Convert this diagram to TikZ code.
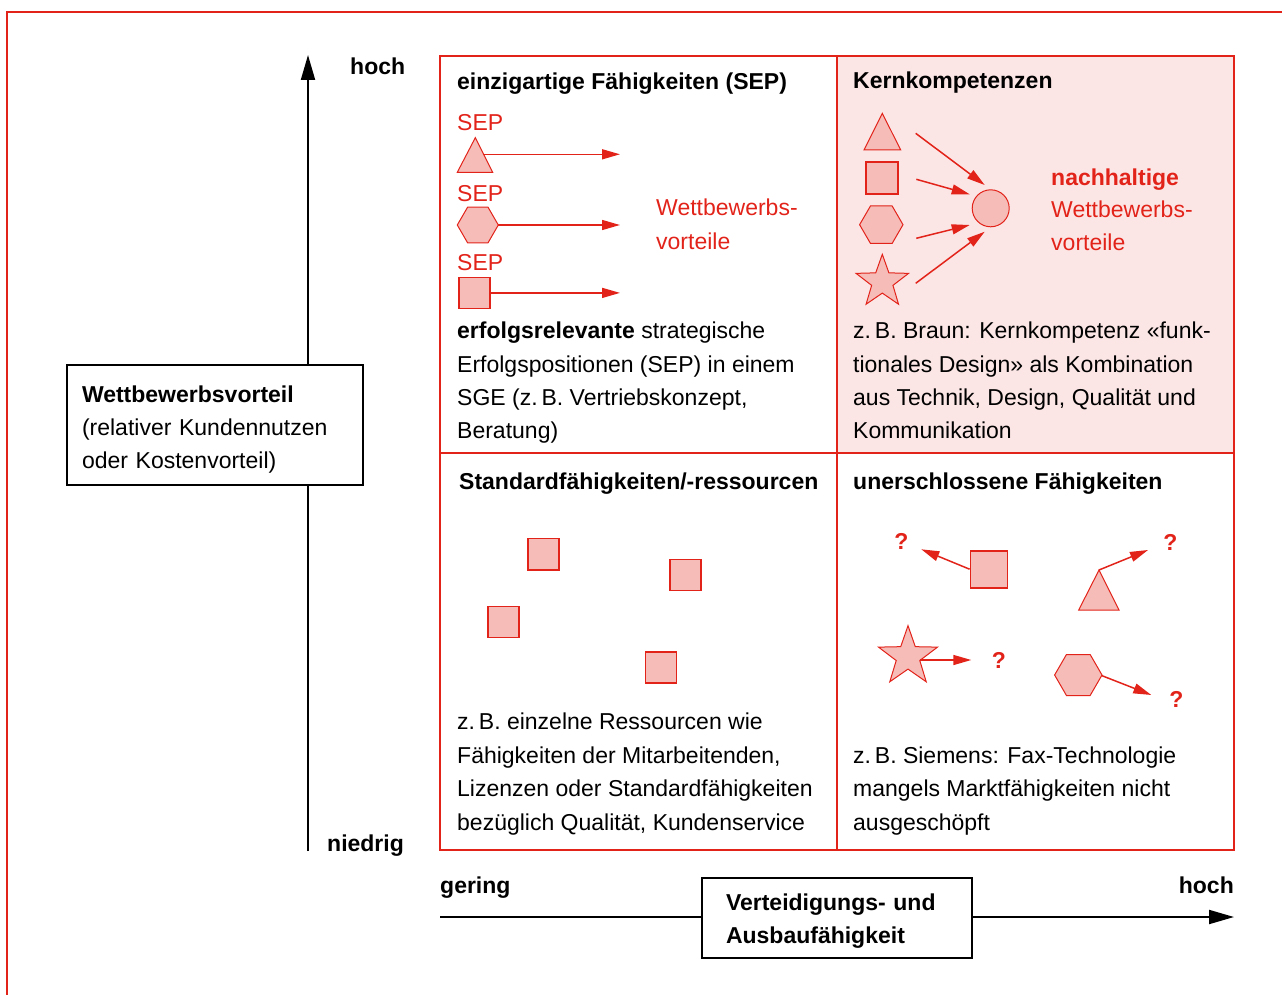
\documentclass[tikz,border=0pt]{standalone}
\usepackage{fontspec}
\setmainfont{Liberation Sans}
\usetikzlibrary{arrows.meta,calc}
\definecolor{rd}{HTML}{E2231A}
\definecolor{shfill}{HTML}{F6BCB8}
\definecolor{cellbg}{HTML}{FCE6E5}
\begin{document}
\begin{tikzpicture}[x=1pt,y=-1pt,
  every node/.style={font=\fontsize{23}{33}\selectfont, inner sep=0pt},
  txt/.style={anchor=base west},
  ttl/.style={anchor=base west, font=\fontsize{23}{33}\selectfont\bfseries},
  rtxt/.style={anchor=base west, text=rd},
  gridline/.style={draw=rd, line width=2pt},
  shp/.style={draw=rd, fill=shfill, line width=1pt, line join=miter},
  sqr/.style={rectangle, draw=rd, fill=shfill, line width=1.8pt, minimum size=#1},
  rarr/.style={draw=rd, line width=1.5pt, -{Triangle[length=18pt,width=10pt]}},
  axisline/.style={line width=2pt, -{Triangle[length=25pt,width=14pt]}},
  lblbox/.style={draw, line width=1.5pt, fill=white, align=left},
  qmark/.style={text=rd, font=\fontsize{23}{33}\selectfont\bfseries}
]
\clip (0,0) rectangle (1282,995);
% outer frame
\draw[draw=rd, line width=2pt] (7,1010) -- (7,12) -- (1300,12);

% matrix
\fill[cellbg] (837,56) rectangle (1234,453);
\draw[gridline] (440,56) rectangle (1234,850);
\draw[gridline] (837,56) -- (837,850);
\draw[gridline] (440,453) -- (1234,453);

% axes
\coordinate (ybot) at (308,851);
\coordinate (ytop) at (308,55);
\draw[axisline] (ybot) -- (ytop);
\coordinate (xl) at (440,917);
\coordinate (xr) at (1234,917);
\draw[axisline] (xl) -- (xr);

\node[lblbox, minimum width=296, minimum height=120, text width=266, inner xsep=15, inner ysep=0] (wbox) at (215,425)
  {\rule{0pt}{25pt}\textbf{Wettbewerbsvorteil}\\(relativer Kundennutzen\\oder Kostenvorteil)};
\node[lblbox, minimum width=270, minimum height=80, text width=222, inner xsep=24, inner ysep=0] (vbox) at (837,918)
  {\rule{0pt}{23pt}\textbf{Verteidigungs- und}\\\textbf{Ausbaufähigkeit}};

\node[ttl] (yhoch) at (350,75) {hoch};
\node[ttl] (yniedrig) at (327,851) {niedrig};
\node[ttl] (xgering) at (440,893) {gering};
\node[ttl, anchor=base east] (xhoch) at (1234,893) {hoch};

% ---------- top left ----------
\node[ttl] (tlt) at (457,90) {einzigartige Fähigkeiten (SEP)};
\node[rtxt] (sep1) at (457,131) {SEP};
\node[rtxt] (sep2) at (457,201) {SEP};
\node[rtxt] (sep3) at (457,270) {SEP};
\filldraw[shp] (475.3,137.7) -- (492.7,172.3) -- (457.3,172.3) -- cycle;
\coordinate (a1s) at (483.3,154.3);
\coordinate (a1e) at (620,154.3);
\draw[rarr] (a1s) -- (a1e);
\filldraw[shp] (457.3,225) -- (467.55,207.25) -- (488.05,207.25) -- (498.3,225) -- (488.05,242.75) -- (467.55,242.75) -- cycle;
\coordinate (a2s) at (498.3,225);
\coordinate (a2e) at (620,225);
\draw[rarr] (a2s) -- (a2e);
\node[sqr=31] (tlsq) at (474.2,292.9) {};
\coordinate (a3e) at (620,292.9);
\draw[rarr] (tlsq.east) -- (a3e);
\node[rtxt] (tlw1) at (656,215) {Wettbewerbs-};
\node[rtxt] (tlw2) at (656,249) {vorteile};
\node[txt] (tlb1) at (457,338) {\textbf{erfolgsrelevante} strategische};
\node[txt] (tlb2) at (457,372) {Erfolgspositionen (SEP) in einem};
\node[txt] (tlb3) at (457,405) {SGE (z.\,B. Vertriebskonzept,};
\node[txt] (tlb4) at (457,438) {Beratung)};

% ---------- top right ----------
\node[ttl] (trt) at (853,89) {Kernkompetenzen};
\filldraw[shp] (882.3,113.3) -- (900.7,150) -- (864,150) -- cycle;
\node[sqr=32.5] (trsq) at (882,178) {};
\filldraw[shp] (859.6,224.7) -- (870.45,206) -- (892.15,206) -- (903,224.7) -- (892.15,243.4) -- (870.45,243.4) -- cycle;
\filldraw[shp] plot[samples at={0,...,9}, variable=\k]
  ({882.3+ifthenelse(mod(\k,2)==0,27.6,11.2)*cos(270+36*\k)},
   {281.9+ifthenelse(mod(\k,2)==0,27.6,11.2)*sin(270+36*\k)}) -- cycle;
\node[circle, draw=rd, fill=shfill, line width=1pt, minimum size=37] (circ) at (990.7,208.3) {};
\coordinate (b1s) at (915.7,133.3);
\coordinate (b1e) at (984.7,185);
\coordinate (b2s) at (916.3,179.3);
\coordinate (b2e) at (969.7,194.3);
\coordinate (b3s) at (916.3,238.3);
\coordinate (b3e) at (969.7,225);
\coordinate (b4s) at (915.7,283.3);
\coordinate (b4e) at (984.7,231.7);
\draw[rarr] (b1s) -- (b1e);
\draw[rarr] (b2s) -- (b2e);
\draw[rarr] (b3s) -- (b3e);
\draw[rarr] (b4s) -- (b4e);
\node[rtxt, font=\fontsize{23}{33}\selectfont\bfseries] (trw0) at (1051,186) {nachhaltige};
\node[rtxt] (trw1) at (1051,218) {Wettbewerbs-};
\node[rtxt] (trw2) at (1051,251) {vorteile};
\node[txt] (trb1) at (853,338) {z.\,B. Braun: Kernkompetenz «funk-};
\node[txt] (trb2) at (853,372) {tionales Design» als Kombination};
\node[txt] (trb3) at (853,405) {aus Technik, Design, Qualität und};
\node[txt] (trb4) at (853,438) {Kommunikation};

% ---------- bottom left ----------
\node[ttl] (blt) at (459,489) {Standardfähigkeiten/-ressourcen};
\node[sqr=31.5] (blsq1) at (543.5,554.3) {};
\node[sqr=31] (blsq2) at (685.5,575) {};
\node[sqr=31] (blsq3) at (503.3,622) {};
\node[sqr=31] (blsq4) at (661,667.8) {};
\node[txt] (blb1) at (457,729) {z.\,B. einzelne Ressourcen wie};
\node[txt] (blb2) at (457,763) {Fähigkeiten der Mitarbeitenden,};
\node[txt] (blb3) at (457,796) {Lizenzen oder Standardfähigkeiten};
\node[txt] (blb4) at (457,830) {bezüglich Qualität, Kundenservice};

% ---------- bottom right ----------
\node[ttl] (brt) at (853,489) {unerschlossene Fähigkeiten};
\node[sqr=37] (brsq) at (989,569.2) {};
\coordinate (c1e) at (921.3,549.3);
\draw[rarr] (brsq.west) -- (c1e);
\node[qmark] (q1) at (901.3,541.7) {?};
\filldraw[shp] (1099,570) -- (1119,610) -- (1078.7,610) -- cycle;
\coordinate (c2s) at (1099,570);
\coordinate (c2e) at (1148,550);
\draw[rarr] (c2s) -- (c2e);
\node[qmark] (q2) at (1170.3,542.7) {?};
\filldraw[shp] plot[samples at={0,...,9}, variable=\k]
  ({908+ifthenelse(mod(\k,2)==0,31,12.4)*cos(270+36*\k)},
   {656.7+ifthenelse(mod(\k,2)==0,31,12.4)*sin(270+36*\k)}) -- cycle;
\coordinate (c3s) at (919.7,660);
\coordinate (c3e) at (971.3,660);
\draw[rarr] (c3s) -- (c3e);
\node[qmark] (q3) at (999,660.7) {?};
\filldraw[shp] (1054.6,675) -- (1066.45,654.5) -- (1090.15,654.5) -- (1102,675) -- (1090.15,695.5) -- (1066.45,695.5) -- cycle;
\coordinate (c4s) at (1102,675.7);
\coordinate (c4e) at (1151.3,695);
\draw[rarr] (c4s) -- (c4e);
\node[qmark] (q4) at (1176.3,699.3) {?};
\node[txt] (brb1) at (853,763) {z.\,B. Siemens: Fax-Technologie};
\node[txt] (brb2) at (853,796) {mangels Marktfähigkeiten nicht};
\node[txt] (brb3) at (853,830) {ausgeschöpft};
\end{tikzpicture}
\end{document}
